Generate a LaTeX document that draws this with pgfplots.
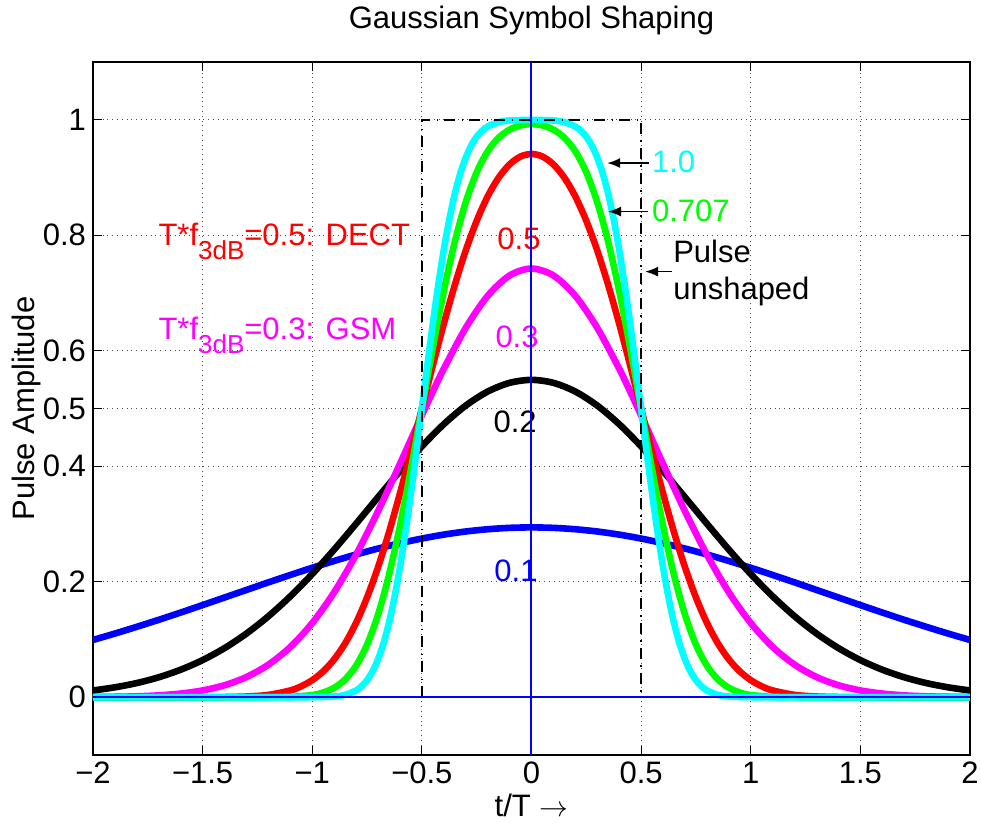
\documentclass[border=0pt]{standalone}
\usepackage{fontspec}
\setmainfont{Liberation Sans}
\usepackage{pgfplots}
\pgfplotsset{compat=1.18}
\usetikzlibrary{arrows.meta}

\definecolor{mblue}{rgb}{0,0,1}
\definecolor{mgreen}{rgb}{0,1,0}
\definecolor{mred}{rgb}{1,0,0}
\definecolor{mmag}{rgb}{1,0,1}
\definecolor{mcyan}{rgb}{0,1,1}

\newcommand{\bigfont}{\fontsize{15.5}{18}\selectfont}
\newcommand{\sub}[1]{\raisebox{-7pt}{\fontsize{13}{13}\selectfont #1}}

\begin{document}
\begin{tikzpicture}
\begin{axis}[
    name=ax,
    scale only axis,
    width=438.5pt, height=346.5pt,
    xmin=-2, xmax=2, ymin=-0.1, ymax=1.1,
    xtick={-2,-1.5,-1,-0.5,0,0.5,1,1.5,2},
    xticklabels={−2,−1.5,−1,−0.5,0,0.5,1,1.5,2},
    ytick={0,0.2,0.4,0.5,0.6,0.8,1},
    yticklabels={0,0.2,0.4,0.5,0.6,0.8,1},
    tick align=inside,
    major tick length=4.5pt,
    tick style={black, line width=0.5pt},
    axis line style={line width=0.6pt},
    grid=major,
    grid style={dotted, black!70, line width=0.5pt},
    tick label style={font=\bigfont},
    label style={font=\bigfont},
    ylabel shift=-6pt,
    xlabel shift=-2pt,
    title style={font=\bigfont, yshift=4pt},
    title={Gaussian Symbol Shaping},
    xlabel={t/T $\rightarrow$},
    ylabel={Pulse Amplitude},
    every axis plot/.append style={line width=3.3pt, smooth},
]

% BT = 0.1
\addplot[mblue] coordinates {
(-2,0.0992)(-1.9,0.1103)(-1.8,0.1220)(-1.7,0.1341)(-1.6,0.1467)(-1.5,0.1596)
(-1.4,0.1727)(-1.3,0.1858)(-1.2,0.1989)(-1.1,0.2117)(-1,0.2242)(-0.9,0.2360)
(-0.8,0.2472)(-0.7,0.2575)(-0.6,0.2667)(-0.5,0.2748)(-0.4,0.2816)(-0.3,0.2870)
(-0.2,0.2909)(-0.1,0.2933)(0,0.2941)(0.1,0.2933)(0.2,0.2909)(0.3,0.2870)
(0.4,0.2816)(0.5,0.2748)(0.6,0.2667)(0.7,0.2575)(0.8,0.2472)(0.9,0.2360)
(1,0.2242)(1.1,0.2117)(1.2,0.1989)(1.3,0.1858)(1.4,0.1727)(1.5,0.1596)
(1.6,0.1467)(1.7,0.1341)(1.8,0.1220)(1.9,0.1103)(2,0.0992)
};

% BT = 0.2
\addplot[black] coordinates {
(-2,0.0117)(-1.9,0.0172)(-1.8,0.0246)(-1.7,0.0346)(-1.6,0.0477)(-1.5,0.0643)
(-1.4,0.0851)(-1.3,0.1103)(-1.2,0.1402)(-1.1,0.1747)(-1,0.2134)(-0.9,0.2557)
(-0.8,0.3005)(-0.7,0.3463)(-0.6,0.3916)(-0.5,0.4344)(-0.4,0.4728)(-0.3,0.5050)
(-0.2,0.5293)(-0.1,0.5444)(0,0.5496)(0.1,0.5444)(0.2,0.5293)(0.3,0.5050)
(0.4,0.4728)(0.5,0.4344)(0.6,0.3916)(0.7,0.3463)(0.8,0.3005)(0.9,0.2557)
(1,0.2134)(1.1,0.1747)(1.2,0.1402)(1.3,0.1103)(1.4,0.0851)(1.5,0.0643)
(1.6,0.0477)(1.7,0.0346)(1.8,0.0246)(1.9,0.0172)(2,0.0117)
};

% BT = 0.3
\addplot[mmag] coordinates {
(-2,0.0003)(-1.9,0.0008)(-1.8,0.0016)(-1.7,0.0033)(-1.6,0.0064)(-1.5,0.0118)
(-1.4,0.0208)(-1.3,0.0350)(-1.2,0.0564)(-1.1,0.0870)(-1,0.1285)(-0.9,0.1818)
(-0.8,0.2469)(-0.7,0.3221)(-0.6,0.4041)(-0.55,0.4462)(-0.5,0.4882)(-0.45,0.5293)
(-0.4,0.5688)(-0.3,0.6396)(-0.2,0.6950)(-0.1,0.7303)(0,0.7424)
(0.1,0.7303)(0.2,0.6950)(0.3,0.6396)(0.4,0.5688)(0.45,0.5293)(0.5,0.4882)
(0.55,0.4462)(0.6,0.4041)(0.7,0.3221)(0.8,0.2469)(0.9,0.1818)(1,0.1285)
(1.1,0.0870)(1.2,0.0564)(1.3,0.0350)(1.4,0.0208)(1.5,0.0118)(1.6,0.0064)
(1.7,0.0033)(1.8,0.0016)(1.9,0.0008)(2,0.0003)
};

% BT = 0.5
\addplot[mred] coordinates {
(-2,0)(-1.5,0.0001)(-1.4,0.0003)(-1.3,0.0013)(-1.2,0.0041)(-1.1,0.0118)
(-1.05,0.0190)(-1,0.0296)(-0.95,0.0448)(-0.9,0.0656)(-0.85,0.0933)(-0.8,0.1288)
(-0.75,0.1728)(-0.7,0.2252)(-0.65,0.2857)(-0.6,0.3530)(-0.55,0.4251)(-0.5,0.4999)
(-0.45,0.5747)(-0.4,0.6467)(-0.35,0.7136)(-0.3,0.7735)(-0.25,0.8249)(-0.2,0.8671)
(-0.15,0.8996)(-0.1,0.9226)(-0.05,0.9363)(0,0.9408)
(0.05,0.9363)(0.1,0.9226)(0.15,0.8996)(0.2,0.8671)(0.25,0.8249)(0.3,0.7735)
(0.35,0.7136)(0.4,0.6467)(0.45,0.5747)(0.5,0.4999)(0.55,0.4251)(0.6,0.3530)
(0.65,0.2857)(0.7,0.2252)(0.75,0.1728)(0.8,0.1288)(0.85,0.0933)(0.9,0.0656)
(0.95,0.0448)(1,0.0296)(1.05,0.0190)(1.1,0.0118)(1.2,0.0041)(1.3,0.0013)
(1.4,0.0003)(1.5,0.0001)(2,0)
};

% BT = 0.707
\addplot[mgreen] coordinates {
(-2,0)(-1.4,0)(-1.2,0.0001)(-1.1,0.0007)(-1,0.0038)(-0.95,0.0082)(-0.9,0.0164)
(-0.85,0.0309)(-0.8,0.0547)(-0.75,0.0911)(-0.7,0.1430)(-0.65,0.2118)(-0.6,0.2968)
(-0.55,0.3948)(-0.5,0.5000)(-0.45,0.6052)(-0.4,0.7032)(-0.35,0.7883)(-0.3,0.8570)
(-0.25,0.9089)(-0.2,0.9452)(-0.15,0.9688)(-0.1,0.9829)(-0.05,0.9902)(0,0.9924)
(0.05,0.9902)(0.1,0.9829)(0.15,0.9688)(0.2,0.9452)(0.25,0.9089)(0.3,0.8570)
(0.35,0.7883)(0.4,0.7032)(0.45,0.6052)(0.5,0.5000)(0.55,0.3948)(0.6,0.2968)
(0.65,0.2118)(0.7,0.1430)(0.75,0.0911)(0.8,0.0547)(0.85,0.0309)(0.9,0.0164)
(0.95,0.0082)(1,0.0038)(1.1,0.0007)(1.2,0.0001)(1.4,0)(2,0)
};

% BT = 1.0
\addplot[mcyan] coordinates {
(-2,0)(-1.2,0)(-1,0.0001)(-0.9,0.0013)(-0.85,0.0041)(-0.8,0.0118)(-0.775,0.0190)
(-0.75,0.0296)(-0.725,0.0448)(-0.7,0.0656)(-0.675,0.0933)(-0.65,0.1288)
(-0.625,0.1728)(-0.6,0.2252)(-0.575,0.2857)(-0.55,0.3530)(-0.525,0.4252)
(-0.5,0.5000)(-0.475,0.5748)(-0.45,0.6470)(-0.425,0.7143)(-0.4,0.7748)
(-0.375,0.8273)(-0.35,0.8712)(-0.325,0.9067)(-0.3,0.9344)(-0.275,0.9553)
(-0.25,0.9704)(-0.225,0.9810)(-0.2,0.9882)(-0.15,0.9959)(-0.1,0.9987)(0,0.9998)
(0.1,0.9987)(0.15,0.9959)(0.2,0.9882)(0.225,0.9810)(0.25,0.9704)(0.275,0.9553)
(0.3,0.9344)(0.325,0.9067)(0.35,0.8712)(0.375,0.8273)(0.4,0.7748)(0.425,0.7143)
(0.45,0.6470)(0.475,0.5748)(0.5,0.5000)(0.525,0.4252)(0.55,0.3530)(0.575,0.2857)
(0.6,0.2252)(0.625,0.1728)(0.65,0.1288)(0.675,0.0933)(0.7,0.0656)(0.725,0.0448)
(0.75,0.0296)(0.775,0.0190)(0.8,0.0118)(0.85,0.0041)(0.9,0.0013)(1,0.0001)
(1.2,0)(2,0)
};

% unshaped rectangular pulse
\addplot[black, line width=1pt, sharp plot, dash pattern=on 5.5pt off 3.2pt on 0.6pt off 3.2pt]
  coordinates {(-0.5,0)(-0.5,1)(0.5,1)(0.5,0)};

% annotations
\node[anchor=base west, inner sep=0pt, text=mred, font=\bigfont] at (axis cs:-1.703,0.782)
  {T*f\sub{3dB}=0.5: DECT};
\node[anchor=base west, inner sep=0pt, text=mmag, font=\bigfont] at (axis cs:-1.703,0.619)
  {T*f\sub{3dB}=0.3: GSM};
\node[anchor=base west, inner sep=0pt, text=mred, font=\bigfont] at (axis cs:-0.157,0.776) {0.5};
\node[anchor=base west, inner sep=0pt, text=mmag, font=\bigfont] at (axis cs:-0.166,0.605) {0.3};
\node[anchor=base west, inner sep=0pt, text=black, font=\bigfont] at (axis cs:-0.175,0.458) {0.2};
\node[anchor=base west, inner sep=0pt, text=mblue, font=\bigfont] at (axis cs:-0.171,0.201) {0.1};
\node[anchor=base west, inner sep=0pt, text=mcyan, font=\bigfont] at (axis cs:0.548,0.908) {1.0};
\node[anchor=base west, inner sep=0pt, text=mgreen, font=\bigfont] at (axis cs:0.548,0.823) {0.707};
\node[anchor=base west, inner sep=0pt, font=\bigfont] at (axis cs:0.645,0.752) {Pulse};
\node[anchor=base west, inner sep=0pt, font=\bigfont] at (axis cs:0.645,0.688) {unshaped};
\draw[-{Latex[length=6.5pt,width=5pt]}, line width=0.8pt] (axis cs:0.535,0.925) -- (axis cs:0.345,0.925);
\draw[-{Latex[length=6.5pt,width=5pt]}, line width=0.8pt] (axis cs:0.531,0.841) -- (axis cs:0.349,0.841);
\draw[-{Latex[length=6.5pt,width=5pt]}, line width=0.8pt] (axis cs:0.641,0.737) -- (axis cs:0.518,0.737);

% zero lines
\addplot[mblue, line width=1pt, sharp plot] coordinates {(-2,0)(2,0)};
\addplot[mblue, line width=1pt, sharp plot] coordinates {(0,-0.1)(0,1.1)};
\end{axis}
\pgfresetboundingbox
\path (ax.south west) ++(-46.5pt,-34.5pt) rectangle ++(490.5pt,412pt);
\end{tikzpicture}
\end{document}
